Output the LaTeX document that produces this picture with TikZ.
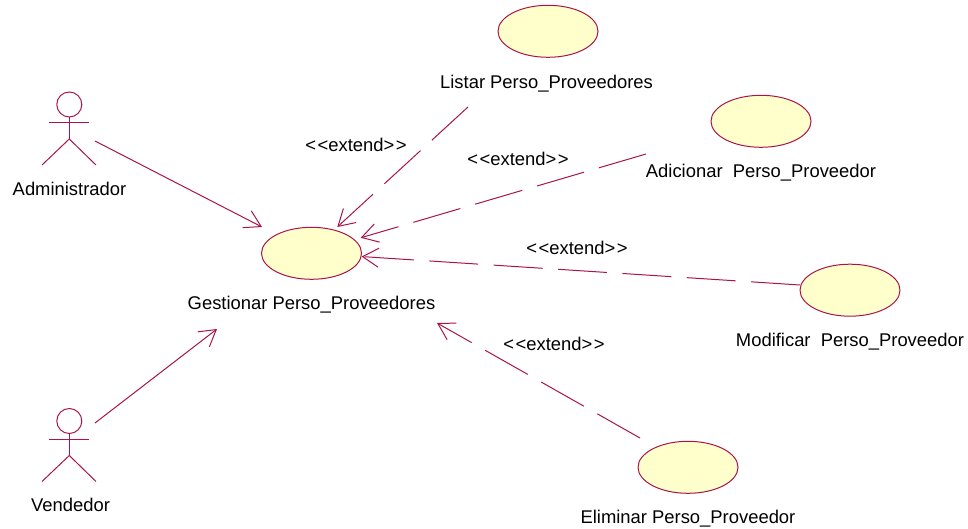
\documentclass[tikz,border=0pt]{standalone}
\usepackage{fontspec}
\setmainfont{Liberation Sans}
\usetikzlibrary{arrows.meta,shapes.geometric}
\definecolor{umlline}{RGB}{170,20,75}
\definecolor{umlfill}{RGB}{255,255,203}
\newcommand{\extendtext}{<\kern1.5pt<extend>\kern1.5pt>}
\begin{document}
\begin{tikzpicture}[x=1pt,y=-1pt,
    usecase/.style ={ellipse, draw=umlline, fill=umlfill, line width=1pt, minimum width=100pt, minimum height=52pt, inner sep=0pt},
    actorhead/.style ={circle, draw=umlline, line width=1pt, minimum size=25pt, inner sep=0pt},
    limb/.style ={draw=umlline, line width=1pt},
    caption/.style ={inner sep=0pt, anchor=base, font=\fontsize{18.4}{20}\selectfont, text=black},
    assoc/.style ={draw=umlline, line width=1pt, -{Straight Barb[length=16pt,width=19pt,line width=1pt]}},
    extendarrow/.style ={assoc, dash pattern=on 49pt off 15.5pt}]
   \useasboundingbox (0,0) rectangle (968,529);
   % actors
   \node[actorhead] (H1) at (69.3,104.5) {};
   \node[actorhead] (H2) at (69.3,421) {};
   \coordinate (N1) at (69.3,139);
   \coordinate (N2) at (69.3,455.5);
   \coordinate (A1) at (95,141);
   \coordinate (A2) at (95,423);
   \draw[limb] (H1) to (N1);
   \draw[limb] (49,122.5) to (89,122.5);
   \draw[limb] (42,165) to (N1);
   \draw[limb] (96,165) to (N1);
   \draw[limb] (H2) to (N2);
   \draw[limb] (49,439) to (89,439);
   \draw[limb] (42,481.5) to (N2);
   \draw[limb] (96,481.5) to (N2);
   \node[caption] (admin) at (69.5,195.7) {Administrador};
   \node[caption] (vend) at (70.5,511.7) {Vendedor};
   % use cases
   \node[usecase] (G) at (311.5,253.3) {};
   \node[usecase] (L) at (548,31.3) {};
   \node[usecase] (C) at (761,121.3) {};
   \node[usecase] (M) at (850,290.2) {};
   \node[usecase] (E) at (688,467.3) {};
   \node[caption] (Gt) at (311.5,309.7) {Gestionar Perso\_Proveedores};
   \node[caption] (Lt) at (546.5,88.7) {Listar Perso\_Proveedores};
   \node[caption] (Ct) at (761,177.7) {Adicionar\ \ Perso\_Proveedor};
   \node[caption] (Mt) at (850,346.7) {Modificar\ \ Perso\_Proveedor};
   \node[caption] (Et) at (688,523.7) {Eliminar Perso\_Proveedor};
   % associations
   \coordinate (G1) at (262,227);
   \coordinate (G2) at (217,329);
   \coordinate (G3) at (437,323);
   \coordinate (G4) at (337.3,227);
   \coordinate (G5) at (360.7,237.8);
   \draw[assoc] (A1) to (G1);
   \draw[assoc] (A2) to (G2);
   % extends
   \coordinate (L1) at (468,107);
   \coordinate (C1) at (646,154);
   \coordinate (M1) at (800,285);
   \coordinate (E1) at (640,438);
   \draw[extendarrow] (L1) to (G4);
   \draw[extendarrow] (C1) to (G5);
   \draw[extendarrow] (M1) to (G);
   \draw[extendarrow] (E1) to (G3);
   \node[caption] (x1) at (356,151.7) {\extendtext};
   \node[caption] (x2) at (518,165.2) {\extendtext};
   \node[caption] (x3) at (577,254.2) {\extendtext};
   \node[caption] (x4) at (554,350.2) {\extendtext};
 \end{tikzpicture}
\end{document}
